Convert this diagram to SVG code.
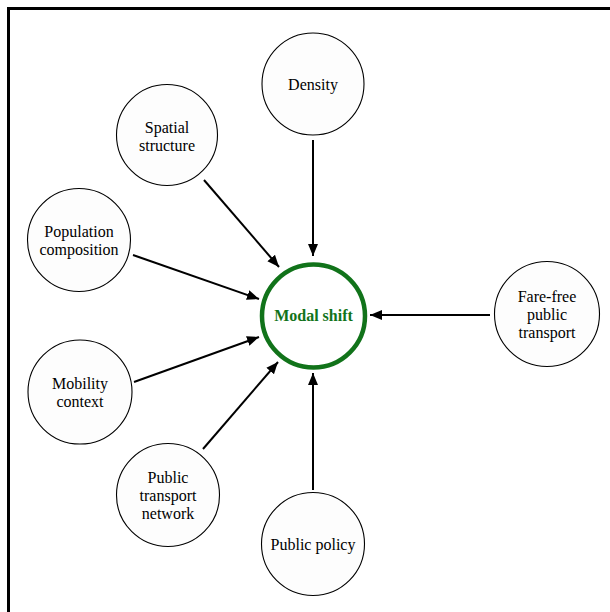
<svg xmlns="http://www.w3.org/2000/svg" width="610" height="612" viewBox="0 0 610 612">
<style>
.node{fill:#fdfdfd;stroke:#000;stroke-width:1.1}
.lbl{font-family:"Liberation Serif","Times New Roman",serif;font-size:16px;fill:#000;text-anchor:middle;dominant-baseline:central}
.edge{stroke:#000;stroke-width:2;fill:none;marker-end:url(#ah)}
</style>
<defs>
<marker id="ah" markerUnits="userSpaceOnUse" markerWidth="14" markerHeight="12" refX="12" refY="6" orient="auto">
<path d="M0,1 L12,6 L0,11 Z" fill="#000"/>
</marker>
</defs>
<rect width="610" height="612" fill="#fff"/>
<path d="M8.5,612 V8.5 H610" fill="none" stroke="#000" stroke-width="3"/>
<g id="connectors">
<line class="edge" x1="313" y1="140" x2="313" y2="256"/>
<line class="edge" x1="490" y1="315" x2="370" y2="315"/>
<line class="edge" x1="313" y1="490" x2="313" y2="373"/>
<line class="edge" x1="204" y1="180" x2="279" y2="267"/>
<line class="edge" x1="133" y1="255" x2="259" y2="299"/>
<line class="edge" x1="134" y1="382" x2="259" y2="337"/>
<line class="edge" x1="203" y1="449" x2="278" y2="362"/>
</g>
<g id="modal-shift">
<circle cx="313.5" cy="316" r="51.5" fill="#fff" stroke="#11731a" stroke-width="4.5"/>
<text class="lbl" x="313.5" y="315" font-weight="bold" style="fill:#11731a">Modal shift</text>
</g>
<g id="density">
<circle class="node" cx="313" cy="84" r="51"/>
<text class="lbl" x="313" y="84">Density</text>
</g>
<g id="spatial-structure">
<circle class="node" cx="167" cy="135" r="50.5"/>
<text class="lbl" x="167" y="127">Spatial</text>
<text class="lbl" x="167" y="145">structure</text>
</g>
<g id="population-composition">
<circle class="node" cx="79" cy="240" r="51.5"/>
<text class="lbl" x="79" y="231">Population</text>
<text class="lbl" x="79" y="249">composition</text>
</g>
<g id="mobility-context">
<circle class="node" cx="80" cy="392" r="52"/>
<text class="lbl" x="80" y="383">Mobility</text>
<text class="lbl" x="80" y="401">context</text>
</g>
<g id="public-transport-network">
<circle class="node" cx="168" cy="495" r="51.5"/>
<text class="lbl" x="168" y="477">Public</text>
<text class="lbl" x="168" y="495">transport</text>
<text class="lbl" x="168" y="513">network</text>
</g>
<g id="public-policy">
<circle class="node" cx="313" cy="544" r="51.5"/>
<text class="lbl" x="313" y="544">Public policy</text>
</g>
<g id="fare-free-public-transport">
<circle class="node" cx="547" cy="314" r="52.5"/>
<text class="lbl" x="547" y="296">Fare-free</text>
<text class="lbl" x="547" y="314">public</text>
<text class="lbl" x="547" y="332">transport</text>
</g>
</svg>
